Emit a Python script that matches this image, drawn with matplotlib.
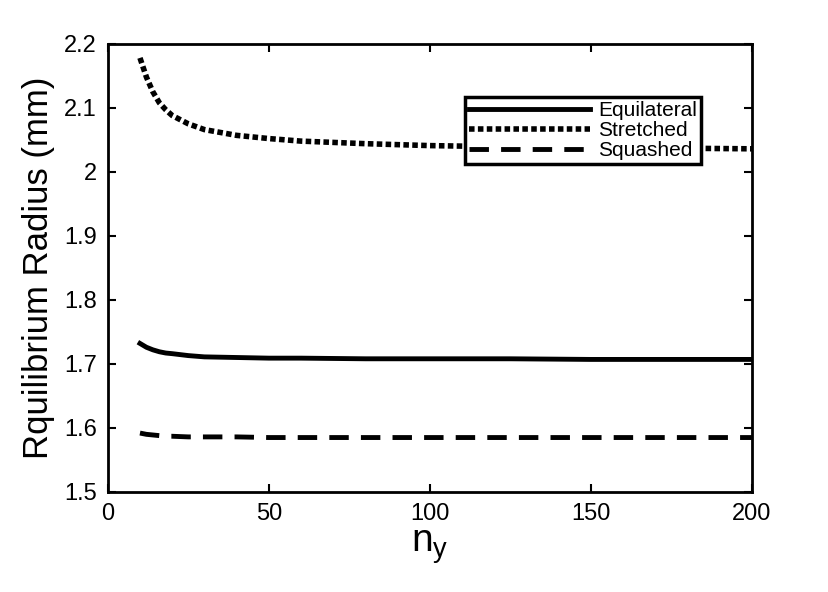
import matplotlib
matplotlib.use("Agg")
import matplotlib.pyplot as plt

plt.rcParams['font.family'] = ['Liberation Sans', 'DejaVu Sans']

# n_y values and radii
ny = [10, 12, 14, 16, 18, 20, 25, 30, 40, 50, 60, 80, 100, 125, 150, 175, 200]
equilateral = [1.732, 1.726, 1.722, 1.719, 1.717, 1.716, 1.713, 1.711, 1.710, 1.709, 1.709, 1.708, 1.708, 1.708, 1.707, 1.707, 1.707]
stretched = [2.178, 2.148, 2.125, 2.108, 2.097, 2.088, 2.075, 2.066, 2.057, 2.052, 2.048, 2.044, 2.041, 2.039, 2.038, 2.037, 2.036]
squashed = [1.592, 1.590, 1.589, 1.588, 1.587, 1.587, 1.586, 1.586, 1.586, 1.585, 1.585, 1.585, 1.585, 1.585, 1.585, 1.585, 1.585]

fig = plt.figure(figsize=(8.29, 5.92), dpi=100)
ax = fig.add_axes([0.130, 0.169, 0.777, 0.757])

ax.plot(ny, equilateral, 'k-', lw=3.5, label='Equilateral')
ax.plot(ny, stretched, 'k', ls=(0, (1, 0.6)), lw=4, label='Stretched')
ax.plot(ny, squashed, 'k', ls=(0, (4, 2.5)), lw=3.5, label='Squashed')

ax.set_xlim(0, 200)
ax.set_ylim(1.5, 2.2)
ax.set_xticks([0, 50, 100, 150, 200])
ax.set_yticks([1.5, 1.6, 1.7, 1.8, 1.9, 2.0, 2.1, 2.2])
ax.set_yticklabels(['1.5', '1.6', '1.7', '1.8', '1.9', '2', '2.1', '2.2'])
ax.tick_params(direction='in', top=True, right=True, labelsize=17, length=6, width=1.5, pad=8)
for s in ax.spines.values():
    s.set_linewidth(2)

ax.set_xlabel('n$_\\mathregular{y}$', fontsize=28, labelpad=2)
ax.set_ylabel('Rquilibrium Radius (mm)', fontsize=25, labelpad=6)

leg = ax.legend(loc='upper right', bbox_to_anchor=(0.937, 0.905), fontsize=15,
                frameon=True, fancybox=False, edgecolor='k', framealpha=1,
                handlelength=5.8, borderpad=0.2, labelspacing=0.05, handletextpad=0.4)
leg.get_frame().set_linewidth(2.5)

fig.savefig('out.png', dpi=100)
